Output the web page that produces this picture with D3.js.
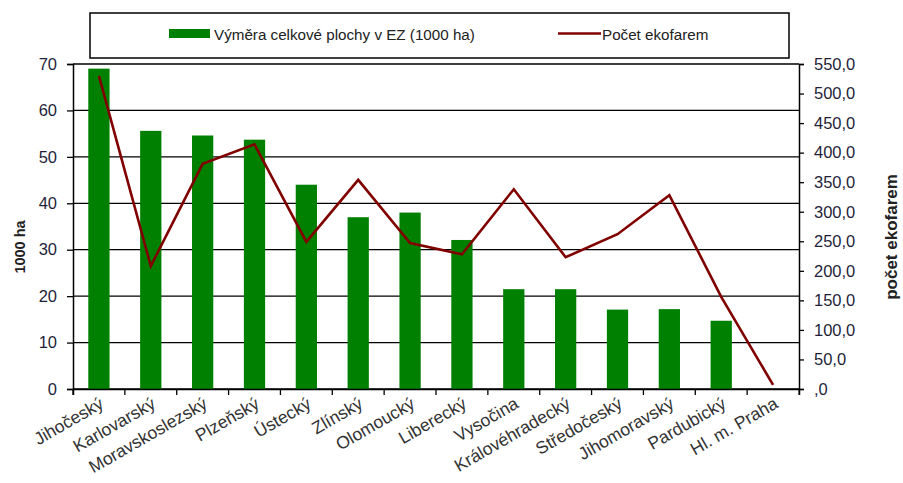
<!DOCTYPE html>
<html>
<head>
<meta charset="utf-8">
<script src="https://cdn.jsdelivr.net/npm/d3@7"></script>
<style>
  body { margin: 0; background: #fff; }
  text { font-family: "Liberation Sans", Arial, sans-serif; }
</style>
</head>
<body>
<div id="chart"></div>
<script>
// data
const regions = ["Jihočeský", "Karlovarský", "Moravskoslezský", "Plzeňský", "Ústecký", "Zlínský",
  "Olomoucký", "Liberecký", "Vysočina", "Královéhradecký", "Středočeský", "Jihomoravský",
  "Pardubický", "Hl. m. Praha"];
const area = [69.0, 55.6, 54.6, 53.7, 44.0, 37.0, 38.0, 32.1, 21.5, 21.5, 17.1, 17.2, 14.7, 0];
const farms = [530, 208, 381, 414, 249, 354, 247, 228, 338, 223, 262, 328, 156, 7];
const leftTicks = [0, 10, 20, 30, 40, 50, 60, 70];
const rightTicks = [0, 50, 100, 150, 200, 250, 300, 350, 400, 450, 500, 550];

const W = 903, H = 483;
const margin = { top: 64, right: 104, bottom: 94, left: 73 };
const width = W - margin.left - margin.right;
const height = H - margin.top - margin.bottom;

const svg = d3.select("#chart").append("svg")
  .attr("width", W).attr("height", H);

const g = svg.append("g")
  .attr("transform", `translate(${margin.left}, ${margin.top})`);

const xScale = d3.scaleBand().domain(regions).range([0, width]);
const yLeft = d3.scaleLinear().domain([0, 70]).range([height, 0]);
const yRight = d3.scaleLinear().domain([0, 550]).range([height, 0]);

// gridlines
g.selectAll("line.grid")
  .data(leftTicks)
  .join("line")
  .attr("class", "grid")
  .attr("x1", 0).attr("x2", width)
  .attr("y1", d => yLeft(d)).attr("y2", d => yLeft(d))
  .attr("stroke", "#000").attr("stroke-width", 1.3);

// bars
const barW = xScale.bandwidth() * 0.41;
g.selectAll("rect.bar")
  .data(regions)
  .join("rect")
  .attr("class", "bar")
  .attr("x", d => xScale(d) + xScale.bandwidth() / 2 - barW / 2)
  .attr("y", (d, i) => yLeft(area[i]))
  .attr("width", barW)
  .attr("height", (d, i) => height - yLeft(area[i]))
  .attr("fill", "#008000");

// line
const line = d3.line()
  .x((d, i) => xScale(regions[i]) + xScale.bandwidth() / 2)
  .y(d => yRight(d));
g.append("path")
  .datum(farms)
  .attr("d", line)
  .attr("fill", "none")
  .attr("stroke", "#800000")
  .attr("stroke-width", 2.6);

// left axis
const axL = g.append("g")
  .call(d3.axisLeft(yLeft).tickValues(leftTicks).tickSize(6).tickPadding(10));
// right axis
const axR = g.append("g")
  .attr("transform", `translate(${width}, 0)`)
  .call(d3.axisRight(yRight).tickValues(rightTicks).tickSize(5).tickPadding(10)
    .tickFormat(d => d === 0 ? ",0" : d + ",0"));
// bottom axis
const axB = g.append("g")
  .attr("transform", `translate(0, ${height})`)
  .call(d3.axisBottom(xScale).tickSize(6).tickSizeOuter(6).tickFormat(""));
// ticks at band boundaries, not centres
axB.selectAll(".tick line")
  .attr("transform", `translate(${-xScale.bandwidth() / 2}, 0)`);
axB.append("line")
  .attr("x1", width).attr("x2", width).attr("y1", 0).attr("y2", 6)
  .attr("stroke", "#000");

[axL, axR, axB].forEach(ax => {
  ax.select(".domain").attr("stroke", "#000").attr("stroke-width", 1.5);
  ax.selectAll(".tick line").attr("stroke", "#000").attr("stroke-width", 1.3);
  ax.selectAll(".tick text")
    .attr("font-size", 16.5)
    .attr("fill", "#1f1f3a")
    .style("font-family", "'Liberation Sans', Arial, sans-serif");
});

// category labels
g.selectAll("text.cat")
  .data(regions)
  .join("text")
  .attr("class", "cat")
  .attr("text-anchor", "end")
  .attr("font-size", 17.5)
  .attr("fill", "#333")
  .attr("transform", d => `translate(${xScale(d) + xScale.bandwidth() / 2 + 6}, ${height + 18}) rotate(-30)`)
  .text(d => d);

// axis titles
svg.append("text")
  .attr("transform", `translate(25, 247) rotate(-90)`)
  .attr("text-anchor", "middle")
  .attr("font-size", 14.5)
  .attr("font-weight", "bold")
  .attr("fill", "#222")
  .text("1000 ha");

svg.append("text")
  .attr("transform", `translate(897, 237) rotate(-90)`)
  .attr("text-anchor", "middle")
  .attr("font-size", 17)
  .attr("font-weight", "bold")
  .attr("fill", "#222")
  .text("počet ekofarem");

// legend
const legend = svg.append("g");
legend.append("rect")
  .attr("x", 90).attr("y", 13).attr("width", 699).attr("height", 45)
  .attr("fill", "#fff").attr("stroke", "#000").attr("stroke-width", 1.5);
legend.append("rect")
  .attr("x", 169).attr("y", 29).attr("width", 41).attr("height", 9)
  .attr("fill", "#008000");
legend.append("text")
  .attr("x", 214).attr("y", 39.5)
  .attr("font-size", 15.2).attr("fill", "#222")
  .text("Výměra celkové plochy v EZ (1000 ha)");
legend.append("line")
  .attr("x1", 558).attr("x2", 601).attr("y1", 33.5).attr("y2", 33.5)
  .attr("stroke", "#800000").attr("stroke-width", 2.6);
legend.append("text")
  .attr("x", 602).attr("y", 39.5)
  .attr("font-size", 15.2).attr("fill", "#222")
  .text("Počet ekofarem");
</script>
</body>
</html>
